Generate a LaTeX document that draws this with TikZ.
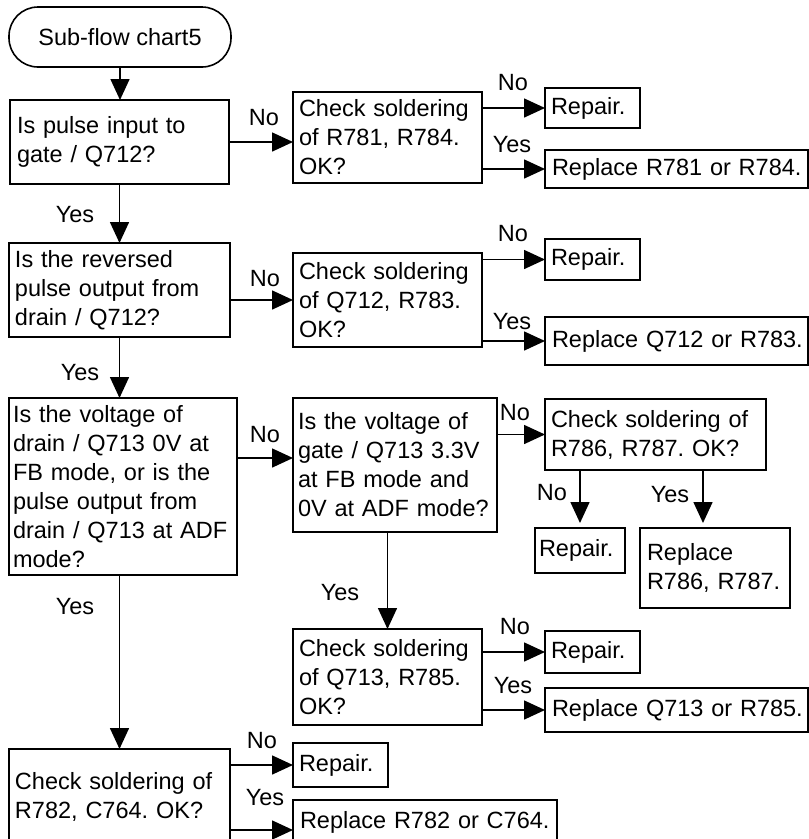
\documentclass[tikz,border=0pt]{standalone}
\usepackage{fontspec}
\setmainfont{Liberation Sans}
\usetikzlibrary{arrows.meta}
\newcommand{\chartfont}{\frenchspacing\fontsize{23.5}{29}\selectfont}
\tikzset{
  box/.style={draw, line width=1.6pt, anchor=north west, align=left,
    inner xsep=6pt, inner ysep=1pt, outer sep=0pt, font=\chartfont},
  arr/.style={line width=1.6pt, -{Triangle[length=21pt,width=19pt]}},
  lbl/.style={font=\chartfont, inner sep=0pt},
}
\begin{document}
\begin{tikzpicture}[x=1pt, y=-1pt]
  \useasboundingbox (0,0) rectangle (809,839);
  \clip (0,0) rectangle (809,839);

  % start
  \node[draw, line width=1.6pt, rounded corners=29pt, outer sep=0pt,
    minimum width=222pt, minimum height=60pt, font=\chartfont] (start) at (120,37) {Sub-flow chart5};

  % row 1
  \node[box, inner xsep=7pt, text width=205pt, minimum height=84pt] (q1) at (10,100) {Is pulse input to\\gate / Q712?};
  \node[box, inner xsep=6pt, text width=177pt, minimum height=91pt] (chk1) at (293,92) {Check soldering\\of R781, R784.\\OK?};
  \node[box, text width=83pt, minimum height=40pt] (rep1) at (545,88) {Repair.};
  \node[box, inner xsep=7pt, text width=249pt, minimum height=38pt] (rpl1) at (545,150) {Replace~R781~or~R784.};

  % row 2
  \node[box, text width=209pt, minimum height=94pt] (q2) at (9,243) {Is the reversed\\pulse output from\\drain / Q712?};
  \node[box, inner xsep=6pt, text width=177pt, minimum height=94pt] (chk2) at (293,253) {Check soldering\\of Q712, R783.\\OK?};
  \node[box, text width=83pt, minimum height=41pt] (rep2) at (545,239) {Repair.};
  \node[box, inner xsep=7pt, text width=249pt, minimum height=48pt] (rpl2) at (545,317) {Replace~Q712~or~R783.};

  % row 3
  \node[box, inner xsep=4pt, text width=220pt, minimum height=177pt] (q3) at (9,398)
    {Is the voltage of\\drain / Q713 0V at\\FB mode, or is the\\pulse output from\\drain / Q713 at ADF\\mode?};
  \node[box, inner xsep=5pt, text width=194pt, minimum height=134pt] (q4) at (293,398)
    {Is the voltage of\\gate / Q713 3.3V\\at FB mode and\\0V~at~ADF~mode?};
  \node[box, text width=209pt, minimum height=71pt] (chk4) at (545,399) {Check soldering of\\R786, R787. OK?};
  \node[box, inner xsep=4pt, text width=82pt, minimum height=45pt] (rep3) at (535,528) {Repair.};
  \node[box, inner xsep=7pt, text width=136pt, minimum height=80pt] (rpl3) at (640,528) {Replace\\R786, R787.};

  % row 4
  \node[box, inner xsep=6pt, text width=177pt, minimum height=96pt] (chk5) at (293,629) {Check soldering\\of Q713, R785.\\OK?};
  \node[box, text width=83pt, minimum height=42pt] (rep4) at (545,631) {Repair.};
  \node[box, inner xsep=7pt, text width=249pt, minimum height=44pt] (rpl4) at (545,688) {Replace~Q713~or~R785.};

  % row 5
  \node[box, text width=209pt, minimum height=96pt] (q6) at (9,749) {Check soldering of\\R782, C764. OK?};
  \node[box, text width=83pt, minimum height=44pt] (rep5) at (293,743) {Repair.};
  \node[box, inner xsep=7pt, text width=250pt, minimum height=44pt] (rpl5) at (293,800) {Replace~R782~or~C764.};

  % connectors
  \draw[arr] (start.south) -- (start.south |- q1.north);
  \draw[arr] (q1.east) -- (q1.east -| chk1.west);
  \draw[arr] (chk1.east |- rep1.west) -- (rep1.west);
  \draw[arr] (chk1.east |- rpl1.west) -- (rpl1.west);
  \draw[arr] (q1.south) -- (q1.south |- q2.north);
  \draw[arr] (q2.east |- chk2.west) -- (chk2.west);
  \draw[arr] (chk2.east |- rep2.west) -- (rep2.west);
  \draw[arr] (chk2.east |- rpl2.west) -- (rpl2.west);
  \draw[arr] (q2.south) -- (q2.south |- q3.north);
  \coordinate (n3) at ([yshift=7pt]q4.west);
  \draw[arr] (q3.east |- n3) -- (n3);
  \draw[arr] (q4.east |- chk4.west) -- (chk4.west);
  \draw[arr] (chk4.south -| rep3.north) -- ([yshift=5pt]rep3.north);
  \coordinate (y3) at ([xshift=-12pt,yshift=5pt]rpl3.north);
  \draw[arr] (chk4.south -| y3) -- (y3);
  \draw[arr] (q4.south -| chk5.north) -- (chk5.north);
  \draw[arr] (chk5.east |- rep4.west) -- (rep4.west);
  \draw[arr] (chk5.east |- rpl4.west) -- (rpl4.west);
  \draw[arr] (q3.south -| q6.north) -- (q6.north);
  \draw[arr] (q6.east |- rep5.west) -- (rep5.west);
  \coordinate (y6) at ([yshift=-8pt]rpl5.west);
  \draw[arr] (q6.east |- y6) -- (y6);

  % labels
  \node[lbl] (no1) at (264,118) {No};
  \node[lbl] (no2) at (513,83) {No};
  \node[lbl] (yes2) at (512,145) {Yes};
  \node[lbl] (yes1) at (75,215) {Yes};
  \node[lbl] (no3) at (265,279) {No};
  \node[lbl] (no4) at (513,234) {No};
  \node[lbl] (yes4) at (512,322) {Yes};
  \node[lbl] (yes3) at (80,373) {Yes};
  \node[lbl] (no5) at (265,435) {No};
  \node[lbl] (no6) at (515,413) {No};
  \node[lbl] (no7) at (552,493) {No};
  \node[lbl] (yes7) at (670,495) {Yes};
  \node[lbl] (yes8) at (340,593) {Yes};
  \node[lbl] (yes9) at (75,607) {Yes};
  \node[lbl] (no10) at (515,627) {No};
  \node[lbl] (yes10) at (513,686) {Yes};
  \node[lbl] (no11) at (262,741) {No};
  \node[lbl] (yes11) at (265,798) {Yes};
\end{tikzpicture}
\end{document}
